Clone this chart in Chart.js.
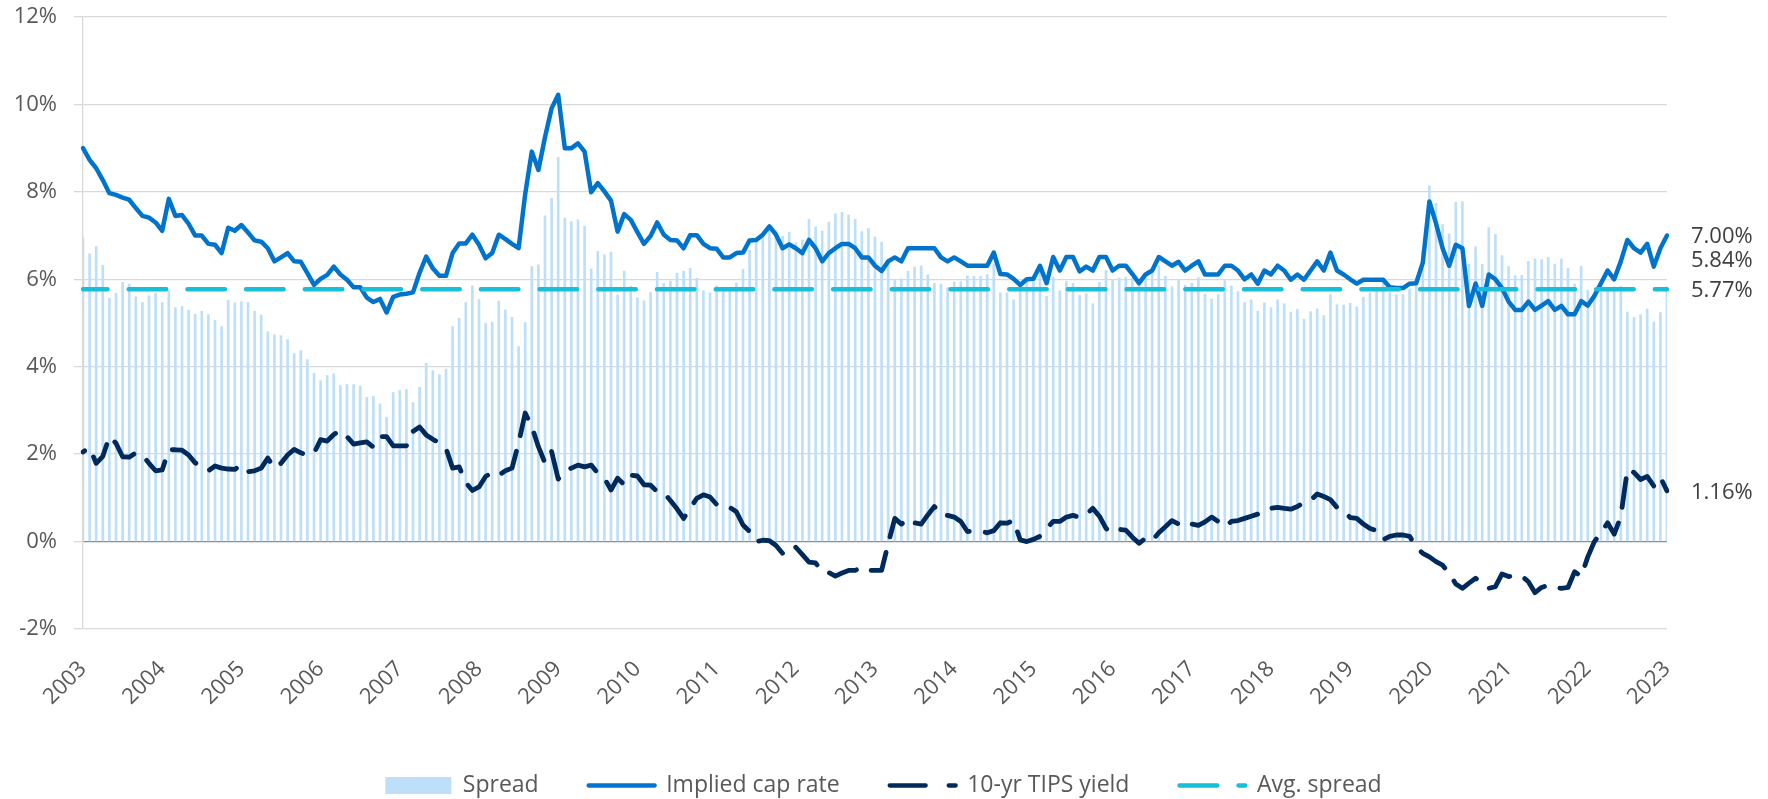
<!DOCTYPE html>
<html>
<head>
<meta charset="utf-8">
<script src="https://cdn.jsdelivr.net/npm/chart.js@4.4.1/dist/chart.umd.min.js"></script>
<style>
html,body{margin:0;padding:0;background:#ffffff;}
#wrap{width:1768px;height:799px;position:relative;}
</style>
</head>
<body>
<div id="wrap"><canvas id="c" width="1768" height="799"></canvas></div>
<script>
// ---------- data (monthly, Jan 2003 – Jan 2023) ----------
const years = ['2003','2004','2005','2006','2007','2008','2009','2010','2011','2012','2013',
               '2014','2015','2016','2017','2018','2019','2020','2021','2022','2023'];

const seriesNames = ['Spread', 'Implied cap rate', '10-yr TIPS yield', 'Avg. spread'];

const capRate = [
  9.00,8.73,8.54,8.27,7.97,7.93,7.87,7.82,7.63,7.45,7.41,7.30,
  7.11,7.84,7.45,7.47,7.27,7.00,7.00,6.81,6.79,6.60,7.18,7.11,
  7.24,7.07,6.89,6.86,6.71,6.41,6.50,6.60,6.41,6.40,6.14,5.87,
  6.01,6.10,6.29,6.11,5.99,5.82,5.82,5.58,5.48,5.55,5.24,5.60,
  5.65,5.67,5.70,6.15,6.52,6.25,6.08,6.08,6.60,6.82,6.82,7.02,
  6.79,6.48,6.60,7.02,6.92,6.81,6.71,7.95,8.92,8.50,9.25,9.91,
  10.22,9.00,9.00,9.11,8.92,7.99,8.20,8.01,7.80,7.09,7.49,7.36,
  7.08,6.81,6.99,7.30,7.02,6.90,6.89,6.71,7.01,7.01,6.81,6.71,
  6.70,6.50,6.50,6.60,6.61,6.89,6.90,7.02,7.21,7.02,6.71,6.80,
  6.71,6.60,6.90,6.71,6.41,6.60,6.71,6.81,6.81,6.71,6.50,6.50,
  6.31,6.19,6.41,6.50,6.41,6.71,6.71,6.71,6.71,6.71,6.50,6.41,
  6.50,6.41,6.31,6.31,6.31,6.31,6.61,6.12,6.11,6.01,5.87,6.00,
  6.01,6.31,5.91,6.51,6.20,6.51,6.51,6.18,6.29,6.20,6.51,6.51,
  6.20,6.31,6.31,6.12,5.91,6.11,6.20,6.51,6.41,6.31,6.40,6.20,
  6.31,6.41,6.11,6.11,6.11,6.31,6.31,6.20,6.00,6.11,5.90,6.20,
  6.11,6.31,6.20,5.99,6.11,5.99,6.20,6.41,6.20,6.61,6.20,6.11,
  6.00,5.90,5.99,5.99,5.99,5.99,5.82,5.80,5.80,5.90,5.91,6.38,
  7.78,7.28,6.71,6.31,6.79,6.71,5.39,5.90,5.39,6.11,6.00,5.80,
  5.49,5.30,5.30,5.49,5.30,5.40,5.50,5.30,5.39,5.20,5.20,5.50,
  5.40,5.62,5.91,6.20,6.00,6.41,6.90,6.71,6.61,6.81,6.29,6.71,
  7.00
];

const tipsYield = [
  2.05,2.15,1.79,1.95,2.40,2.25,1.94,1.93,2.03,1.98,1.79,1.62,
  1.64,2.10,2.10,2.09,1.98,1.80,1.73,1.62,1.73,1.68,1.66,1.65,
  1.75,1.60,1.62,1.68,1.91,1.68,1.79,1.98,2.11,2.03,1.98,2.02,
  2.33,2.30,2.45,2.54,2.40,2.23,2.26,2.28,2.16,2.40,2.40,2.19,
  2.19,2.19,2.52,2.62,2.44,2.34,2.26,2.13,1.68,1.71,1.35,1.17,
  1.25,1.49,1.58,1.52,1.62,1.68,2.25,2.94,2.63,2.17,1.80,2.06,
  1.43,1.60,1.68,1.75,1.71,1.75,1.56,1.45,1.18,1.45,1.30,1.52,
  1.50,1.30,1.29,1.14,1.12,0.94,0.75,0.53,0.76,0.99,1.07,1.02,
  0.85,0.78,0.78,0.68,0.38,0.23,0.00,0.03,0.02,-0.09,-0.27,-0.28,
  -0.13,-0.30,-0.47,-0.49,-0.69,-0.71,-0.79,-0.72,-0.66,-0.66,-0.59,-0.66,
  -0.66,-0.66,-0.05,0.53,0.40,0.53,0.43,0.40,0.61,0.80,0.61,0.60,
  0.56,0.46,0.23,0.24,0.24,0.20,0.25,0.43,0.42,0.48,0.04,0.00,
  0.05,0.12,0.30,0.46,0.46,0.56,0.60,0.55,0.62,0.76,0.58,0.30,
  0.20,0.28,0.26,0.10,-0.04,0.08,0.02,0.20,0.34,0.48,0.40,0.33,
  0.40,0.37,0.45,0.56,0.46,0.34,0.46,0.48,0.53,0.58,0.63,0.74,
  0.76,0.78,0.76,0.74,0.80,0.90,0.94,1.09,1.03,0.96,0.78,0.70,
  0.55,0.53,0.40,0.30,0.25,0.04,0.12,0.15,0.15,0.12,-0.12,-0.27,
  -0.35,-0.46,-0.54,-0.73,-0.97,-1.07,-0.95,-0.84,-0.95,-1.07,-1.03,-0.74,
  -0.80,-0.78,-0.79,-0.92,-1.17,-1.05,-1.00,-1.05,-1.07,-1.05,-0.69,-0.80,
  -0.35,0.00,0.20,0.43,0.17,0.57,1.65,1.58,1.42,1.49,1.27,1.47,
  1.16
];

const spread = [
  6.95,6.58,6.75,6.32,5.57,5.68,5.93,5.89,5.60,5.47,5.62,5.68,
  5.47,5.74,5.35,5.38,5.29,5.20,5.27,5.19,5.06,4.92,5.52,5.46,
  5.49,5.47,5.27,5.18,4.80,4.73,4.71,4.62,4.30,4.37,4.16,3.85,
  3.68,3.80,3.84,3.57,3.59,3.59,3.56,3.30,3.32,3.15,2.84,3.41,
  3.46,3.48,3.18,3.53,4.08,3.91,3.82,3.95,4.92,5.11,5.47,5.85,
  5.54,4.99,5.02,5.50,5.30,5.13,4.46,5.01,6.29,6.33,7.45,7.85,
  8.79,7.40,7.32,7.36,7.21,6.24,6.64,6.56,6.62,5.64,6.19,5.84,
  5.58,5.51,5.70,6.16,5.90,5.96,6.14,6.18,6.25,6.02,5.74,5.69,
  5.85,5.72,5.72,5.92,6.23,6.66,6.90,6.99,7.19,7.11,6.98,7.08,
  6.84,6.90,7.37,7.20,7.10,7.31,7.50,7.53,7.47,7.37,7.09,7.16,
  6.97,6.85,6.46,5.97,6.01,6.18,6.28,6.31,6.10,5.91,5.89,5.81,
  5.94,5.95,6.08,6.07,6.07,6.11,6.36,5.69,5.69,5.53,5.83,6.00,
  5.96,6.19,5.61,6.05,5.74,5.95,5.91,5.63,5.67,5.44,5.93,6.21,
  6.00,6.03,6.05,6.02,5.95,6.03,6.18,6.31,6.07,5.83,6.00,5.87,
  5.91,6.04,5.66,5.55,5.65,5.97,5.85,5.72,5.47,5.53,5.27,5.46,
  5.35,5.53,5.44,5.25,5.31,5.09,5.26,5.32,5.17,5.65,5.42,5.41,
  5.45,5.37,5.59,5.69,5.74,5.95,5.70,5.65,5.65,5.78,6.03,6.65,
  8.13,7.74,7.25,7.04,7.76,7.78,6.34,6.74,6.34,7.18,7.03,6.54,
  6.29,6.08,6.09,6.41,6.47,6.45,6.50,6.35,6.46,6.25,5.89,6.30,
  5.75,5.62,5.71,5.77,5.83,5.84,5.25,5.13,5.19,5.32,5.02,5.24,
  5.84
];

const avgSpread = 5.77;
const yTicks = [-2, 0, 2, 4, 6, 8, 10, 12];

// ---------- category labels built from the years list ----------
const labels = [];
years.forEach((y, k) => {
  const n = (k === years.length - 1) ? 1 : 12;
  for (let m = 1; m <= n; m++) labels.push(y + '-' + String(m).padStart(2, '0'));
});

// ---------- styles ----------
const FONT = "'Open Sans', 'DejaVu Sans', sans-serif";
const TEXT = '#595959';
const C_BAR = '#BEDFF8';
const C_CAP = '#0074CC';
const C_TIPS = '#002A5C';
const C_AVG = '#17BFD8';
const legendDash = [[], [], [36, 23], [38, 21]];

const legendShift = {
  id: 'legendShift',
  afterLayout(chart) {
    const lg = chart.legend;
    if (lg) {
      lg.top += 8; lg.bottom += 8;
      lg.left += 43; lg.right += 43;
    }
  }
};

const endLabels = {
  id: 'endLabels',
  afterDatasetsDraw(chart) {
    const { ctx, chartArea, scales } = chart;
    const y = scales.y;
    const last = labels.length - 1;
    const items = [
      { v: capRate[last], dy: 1 },
      { v: spread[last], dy: -26 },
      { v: avgSpread, dy: 1.5 },
      { v: tipsYield[last], dy: 2 }
    ];
    ctx.save();
    ctx.font = '22px ' + FONT;
    ctx.fillStyle = '#404040';
    ctx.textAlign = 'left';
    ctx.textBaseline = 'middle';
    items.forEach(it => {
      ctx.fillText(it.v.toFixed(2) + '%', chartArea.right + 24, y.getPixelForValue(it.v) + it.dy);
    });
    ctx.restore();
  }
};

new Chart(document.getElementById('c'), {
  type: 'line',
  data: {
    labels: labels,
    datasets: [
      {
        type: 'bar', label: seriesNames[0], data: spread,
        backgroundColor: C_BAR, borderWidth: 0, barThickness: 2, order: 4
      },
      {
        label: seriesNames[1], data: capRate,
        borderColor: C_CAP, backgroundColor: C_CAP, borderWidth: 4.5,
        borderJoinStyle: 'round', borderCapStyle: 'round',
        pointRadius: 0, tension: 0, fill: false, order: 3
      },
      {
        label: seriesNames[2], data: tipsYield,
        borderColor: C_TIPS, backgroundColor: C_TIPS, borderWidth: 4.8,
        borderDash: [29, 16], borderDashOffset: 27,
        borderJoinStyle: 'round', borderCapStyle: 'round',
        pointRadius: 0, tension: 0, fill: false, order: 2
      },
      {
        label: seriesNames[3],
        data: [{ x: labels[0], y: avgSpread }, { x: labels[labels.length - 1], y: avgSpread }],
        borderColor: C_AVG, backgroundColor: C_AVG, borderWidth: 4.5,
        borderDash: [37.5, 21.2], borderDashOffset: 13,
        borderCapStyle: 'round',
        pointRadius: 0, tension: 0, fill: false, order: 1
      }
    ]
  },
  options: {
    responsive: false,
    animation: false,
    devicePixelRatio: 1,
    events: [],
    layout: { padding: { left: 14, right: 101, top: 17, bottom: 0 } },
    plugins: {
      tooltip: { enabled: false },
      title: { display: false },
      legend: {
        position: 'bottom',
        labels: {
          usePointStyle: true,
          pointStyleWidth: 66,
          boxHeight: 17,
          padding: 50,
          color: TEXT,
          font: { family: FONT, size: 23 },
          sort: (a, b) => a.datasetIndex - b.datasetIndex,
          generateLabels(chart) {
            return chart.data.datasets.map((ds, i) => {
              const isBar = ds.type === 'bar';
              return {
                text: ds.label,
                datasetIndex: i,
                fontColor: TEXT,
                fillStyle: isBar ? ds.backgroundColor : 'rgba(0,0,0,0)',
                strokeStyle: isBar ? ds.backgroundColor : ds.borderColor,
                lineWidth: isBar ? 0 : 4.3,
                lineDash: legendDash[i],
                lineDashOffset: 0,
                lineCap: 'round',
                pointStyle: isBar ? 'rect' : 'line',
                hidden: false
              };
            });
          }
        }
      }
    },
    scales: {
      x: {
        type: 'category',
        offset: false,
        grid: { display: false, drawTicks: false },
        border: { display: false },
        ticks: {
          autoSkip: false,
          minRotation: 45,
          maxRotation: 45,
          padding: 27,
          color: TEXT,
          font: { family: FONT, size: 22 },
          callback(value, index) {
            const l = labels[index];
            return l.endsWith('-01') ? l.slice(0, 4) : null;
          }
        },
        afterFit(s) { s.height = 87; }
      },
      y: {
        min: yTicks[0],
        max: yTicks[yTicks.length - 1],
        afterBuildTicks(s) { s.ticks = yTicks.map(v => ({ value: v })); },
        ticks: {
          padding: 17,
          color: TEXT,
          font: { family: FONT, size: 22 },
          callback: v => v + '%'
        },
        grid: {
          color: c => (c.tick && c.tick.value === 0) ? '#8A8A8A' : '#D9D9D9',
          tickColor: '#D9D9D9',
          tickLength: 9,
          lineWidth: 1.3
        },
        border: { color: '#D9D9D9', width: 1.3 },
        afterFit(s) { s.width = 69; s.paddingTop = 0; s.paddingBottom = 0; }
      }
    }
  },
  plugins: [legendShift, endLabels]
});
</script>
</body>
</html>
